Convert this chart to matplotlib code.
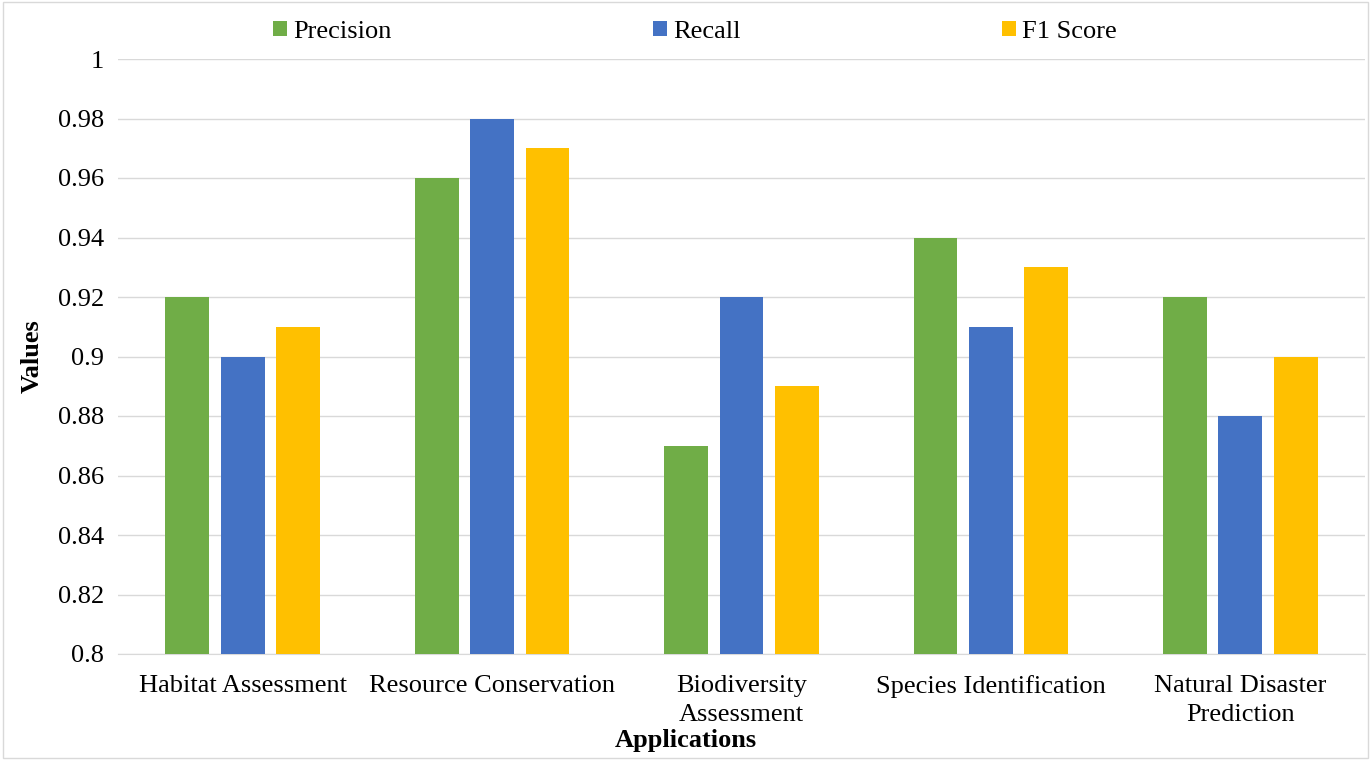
import matplotlib.pyplot as plt
import numpy as np

categories = ["Habitat Assessment", "Resource Conservation", "Biodiversity\nAssessment",
              "Species Identification", "Natural Disaster\nPrediction"]
precision = [0.92, 0.96, 0.87, 0.94, 0.92]
recall = [0.90, 0.98, 0.92, 0.91, 0.88]
f1_score = [0.91, 0.97, 0.89, 0.93, 0.90]
y_ticks = [0.8, 0.82, 0.84, 0.86, 0.88, 0.9, 0.92, 0.94, 0.96, 0.98, 1]
y_tick_labels = ["0.8", "0.82", "0.84", "0.86", "0.88", "0.9", "0.92", "0.94", "0.96", "0.98", "1"]

plt.rcParams["font.family"] = ["Liberation Serif", "DejaVu Serif"]
FS = 19

fig = plt.figure(figsize=(13.71, 7.6), dpi=100)
ax = fig.add_axes([118 / 1371, 1 - 654 / 760, 1247 / 1371, 595 / 760])

x = np.arange(len(categories))
width = 0.176
offset = 0.222
ax.bar(x - offset, precision, width, color="#70AD47", label="Precision", zorder=3)
ax.bar(x, recall, width, color="#4472C4", label="Recall", zorder=3)
ax.bar(x + offset, f1_score, width, color="#FFC000", label="F1 Score", zorder=3)

ax.set_xlim(-0.5, len(categories) - 0.5)
ax.set_ylim(0.8, 1.0)
ax.set_yticks(y_ticks)
ax.set_yticklabels(y_tick_labels, fontsize=FS)
ax.set_xticks(x)
ax.set_xticklabels(categories, fontsize=FS, linespacing=1.4)
ax.tick_params(axis="y", length=0, pad=10)
ax.tick_params(axis="x", length=0, pad=15)
ax.grid(axis="y", color="#D9D9D9", linewidth=1, zorder=0)
for side in ["top", "right", "left"]:
    ax.spines[side].set_visible(False)
ax.spines["bottom"].set_color("#D9D9D9")

ax.set_ylabel("Values", fontsize=FS, fontweight="bold", labelpad=10)
fig.text(686 / 1371, 1 - 741 / 760, "Applications", fontsize=FS, fontweight="bold",
         ha="center", va="center")

handles, labels = ax.get_legend_handles_labels()
fig.legend(handles, labels, loc="center", bbox_to_anchor=(695 / 1371, 1 - 32 / 760),
           ncol=3, frameon=False, fontsize=FS, handlelength=0.53, handleheight=0.53,
           handletextpad=0.23, columnspacing=9.9)

fig.patches.append(plt.Rectangle((0.002, 0.002), 0.996, 0.996, transform=fig.transFigure,
                                 fill=False, edgecolor="#D9D9D9", linewidth=1))

fig.savefig("out.png", dpi=100)
